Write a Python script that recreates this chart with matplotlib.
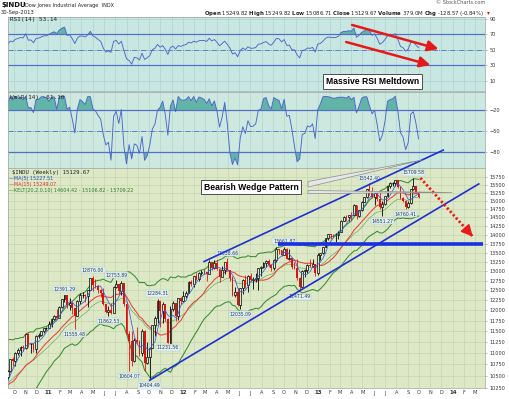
import numpy as np
import pandas as pd
import matplotlib
matplotlib.use("Agg")
import matplotlib.pyplot as plt
import matplotlib.dates as mdates
from matplotlib.patches import Polygon
from matplotlib.ticker import NullLocator

# weekly $INDU bars, weeks of 2010-05-03 ... 2013-09-30
closes = [
    10380, 10620, 10193, 10137, 9931, 10211, 10450, 10143, 9686, 10198, 10097, 10424, 10466, 10653,
    10303, 10213, 10150, 10447, 10462, 10607, 10860, 10829, 11006, 11062, 11133, 11118, 11444, 11192,
    11204, 11092, 11382, 11410, 11491, 11573, 11578,
    11674, 11787, 11871, 11823, 12092, 12273, 12391, 12130, 12170, 12044, 11858, 12221, 12376, 12380,
    12342, 12506, 12811, 12639, 12596, 12512, 12441, 12151, 11952, 12004, 11934, 12582, 12657, 12479,
    12681, 12143, 11444, 11269, 10818, 11284, 11240, 10992, 11510, 10771, 10913, 11103, 11644, 11809,
    12231, 11983, 12153, 11796, 11231.78, 12019, 12184, 11867, 12294, 12218,
    12360, 12422, 12720, 12660, 12862, 12801, 12950, 12983, 12978, 12922, 13233, 13081, 13212, 13060,
    12850, 13029, 13228, 13038, 12821, 12369, 12454, 12119, 12554, 12767, 12640, 12880, 12772, 12777,
    12822, 13075, 13096, 13207, 13275, 13157, 13090, 13306, 13593, 13579, 13437, 13610, 13328, 13343,
    13107, 13093, 12815, 12588, 13010, 13026, 13155, 13135, 13190, 12938,
    13435, 13488, 13650, 13896, 14009, 13993, 13982, 14001, 14090, 14397, 14514, 14512, 14579, 14565,
    14865, 14547, 14712, 14974, 15118, 15354, 15303, 15116, 15248, 15070, 14799, 14910, 15136, 15464,
    15544, 15559, 15659, 15426, 15082, 15010, 14810, 14922, 15376, 15452, 15258, 15129.67,
]
highs = [
    11151, 10879, 10710, 10400, 10360, 10240, 10470, 10594, 10150, 10210, 10411, 10450, 10540, 10700,
    10720, 10450, 10240, 10460, 10480, 10620, 10870, 10900, 11010, 11100, 11160, 11180, 11450, 11450,
    11220, 11210, 11400, 11460, 11500, 11580, 11600,
    11750, 11800, 11880, 12020, 12100, 12280, 12391.29, 12391, 12300, 12200, 12050, 12250, 12420, 12450,
    12400, 12510, 12820, 12876.00, 12780, 12640, 12520, 12570, 12160, 12100, 12190, 12600, 12753.89, 12660,
    12750, 12690, 12200, 11500, 11500, 11330, 11600, 11300, 11550, 11520, 11250, 11130, 11650, 11850,
    12284.31, 12240, 12200, 12160, 11800, 12100, 12240, 12190, 12300, 12320,
    12480, 12490, 12730, 12760, 12870, 12950, 12970, 13030, 13060, 12980, 13290, 13240, 13290, 13290,
    13060, 13130, 13240, 13338.66, 13040, 12870, 12580, 12560, 12560, 12780, 12900, 12900, 12950, 12830,
    12960, 13090, 13140, 13250, 13300, 13330, 13170, 13320, 13650, 13600, 13580, 13661.87, 13620, 13590,
    13350, 13240, 13320, 12830, 13020, 13050, 13180, 13330, 13320, 13190,
    13480, 13500, 13660, 13900, 14020, 14020, 14030, 14040, 14110, 14420, 14540, 14560, 14580, 14660,
    14890, 14880, 14720, 15010, 15130, 15370, 15542.40, 15420, 15260, 15250, 15340, 15000, 15160, 15470,
    15600, 15600, 15660, 15660, 15430, 15130, 15020, 15010, 15380, 15709.58, 15470, 15249.82,
]
lows = [
    9870, 10380, 9920, 9775, 9920, 9757, 10130, 10080, 9614, 9680, 10080, 10000, 10350, 10460,
    10290, 10150, 9936, 9990, 10300, 10440, 10590, 10700, 10710, 10950, 10930, 11050, 11090, 11140,
    10990, 11010, 10990, 11330, 11380, 11460, 11520,
    11570, 11600, 11770, 11800, 11800, 12050, 12200, 12050, 12000, 11900, 11555.48, 11850, 12150, 12300,
    12200, 12090, 12500, 12490, 12570, 12420, 12330, 12130, 11940, 11862.53, 11900, 11930, 12550, 12400,
    12380, 12100, 11400, 10604.07, 10700, 10800, 11200, 10930, 10930, 10600, 10750, 10404.49, 11100, 11380,
    11700, 11600, 11700, 11740, 11231.56, 11230, 11990, 11730, 11770, 12150,
    12210, 12300, 12420, 12600, 12580, 12760, 12740, 12900, 12920, 12740, 12920, 13040, 13050, 13040,
    12700, 12850, 12920, 13020, 12750, 12350, 12340, 12100, 12035.09, 12400, 12550, 12450, 12750, 12520,
    12700, 12500, 12870, 13080, 13100, 13100, 13000, 13020, 13250, 13450, 13400, 13420, 13320, 13300,
    13050, 13060, 12760, 12471.49, 12550, 12850, 12950, 13100, 13100, 12880,
    12900, 13300, 13460, 13640, 13850, 13880, 13920, 13780, 13870, 14090, 14390, 14390, 14410, 14430,
    14560, 14450, 14500, 14700, 14960, 15080, 15180, 15100, 14880, 15000, 14760, 14551.27, 14870, 15130,
    15400, 15450, 15450, 15400, 15060, 14960, 14760.41, 14780, 14900, 15340, 15250, 15086.71,
]

# swing highs / lows labelled on the chart
swing_dates = ["2011-02-14", "2011-03-14", "2011-05-02", "2011-06-13", "2011-07-04", "2011-08-08",
               "2011-10-03", "2011-10-24", "2011-11-21", "2012-04-30", "2012-06-04", "2012-10-01",
               "2012-11-12", "2013-05-20", "2013-06-24", "2013-09-16", "2013-08-26"]
swing_values = [12391.29, 11555.48, 12876.00, 11862.53, 12753.89, 10604.07, 10404.49, 12284.31,
                11231.56, 13338.66, 12035.09, 13661.87, 12471.49, 15542.40, 14551.27, 15709.58, 14760.41]
swing_is_high = [1, 0, 1, 0, 1, 0, 0, 1, 0, 1, 0, 1, 0, 1, 0, 1, 0]

# hand drawn annotation lines (date, value)
upper_line = (["2012-02-27", "2013-12-06"], [13255, 16637])
lower_line = (["2011-10-03", "2014-03-12"], [10404.49, 15527])
resist_line = (["2012-09-15", "2014-03-23"], [13730, 13730])
drop_arrow = (["2013-10-05", "2014-02-24"], [15718, 13945])
rsi_arrow_top = (["2013-04-03", "2013-11-23"], [82.3, 51.3])
rsi_arrow_low = (["2013-03-18", "2013-11-01"], [60.3, 30.6])

W, H = 510, 399
L, R = 8, 485

c = np.array(closes, float)
hi = np.array(highs, float)
lo = np.array(lows, float)
o = np.r_[c[0], c[:-1]]
hi = np.maximum(hi, np.maximum(o, c))
lo = np.minimum(lo, np.minimum(o, c))
dates = pd.date_range(end="2013-09-30", periods=len(c), freq="7D")
xd = mdates.date2num(dates)

# indicators
cs = pd.Series(c)
ma5 = cs.rolling(5).mean()
ma15 = cs.rolling(15).mean()
ema20 = cs.ewm(span=20, adjust=False).mean()
prev = cs.shift(1).fillna(cs.iloc[0])
tr = np.maximum(hi - lo, np.maximum(abs(hi - prev), abs(lo - prev)))
atr = pd.Series(tr).ewm(alpha=1 / 10, adjust=False).mean()
kelt_up = ema20 + 2 * atr
kelt_dn = ema20 - 2 * atr

d = cs.diff().fillna(0)
au = d.clip(lower=0).ewm(alpha=1 / 14, adjust=False).mean()
ad = (-d).clip(lower=0).ewm(alpha=1 / 14, adjust=False).mean()
rsi = (100 - 100 / (1 + au / ad)).to_numpy()

hh = pd.Series(hi).rolling(14, min_periods=1).max()
ll = pd.Series(lo).rolling(14, min_periods=1).min()
wr = ((hh - cs) / (hh - ll) * -100).to_numpy()

fig = plt.figure(figsize=(W / 100, H / 100), dpi=100)


def panel(top, bottom):
    return fig.add_axes([L / W, 1 - bottom / H, (R - L) / W, (bottom - top) / H])


def fxy(px, py):
    return px / W, 1 - py / H


ax_rsi = panel(17, 91)
ax_wr = panel(92, 168)
ax_p = panel(168, 388)
ax_p.set_zorder(3)

x0 = mdates.date2num(pd.Timestamp("2010-09-14"))
x1 = mdates.date2num(pd.Timestamp("2014-03-29"))
months = pd.date_range("2010-10-01", "2014-03-01", freq="MS")
month_labels = [m.strftime("%y") if m.month == 1 else m.strftime("%b")[0] for m in months]

line_blue = "#4c66c8"
fill_teal = "#62b4a8"
thr_blue = "#5470c4"


def style(ax, bg, grid):
    ax.set_facecolor(bg)
    ax.set_xlim(x0, x1)
    ax.set_xticks(mdates.date2num(months))
    ax.tick_params(axis="x", length=0, labelbottom=False)
    ax.yaxis.tick_right()
    ax.tick_params(axis="y", length=1.5, width=0.4, color="#888888", labelsize=3.6, pad=1.5,
                   labelcolor="#333333")
    ax.grid(True, color=grid, lw=0.5)
    ax.set_axisbelow(True)
    for s in ax.spines.values():
        s.set_color("#9aa3a0")
        s.set_linewidth(0.5)


# ---- RSI panel
style(ax_rsi, "#c9e7e2", "#b0d4ce")
ax_rsi.set_ylim(-3, 92.6)
ax_rsi.set_yticks([10, 30, 50, 70, 90])
ax_rsi.fill_between(xd, 70, rsi, where=rsi > 70, interpolate=True, color=fill_teal, lw=0)
ax_rsi.fill_between(xd, 30, rsi, where=rsi < 30, interpolate=True, color=fill_teal, lw=0)
ax_rsi.axhline(70, color=thr_blue, lw=0.9)
ax_rsi.axhline(30, color=thr_blue, lw=0.9)
ax_rsi.axhline(50, color=thr_blue, lw=0.6, ls="-.")
ax_rsi.plot(xd, rsi, color=line_blue, lw=0.65)
for arr in (rsi_arrow_top, rsi_arrow_low):
    xs = mdates.date2num(pd.to_datetime(arr[0]))
    ax_rsi.annotate("", xy=(xs[1], arr[1][1]), xytext=(xs[0], arr[1][0]),
                    arrowprops=dict(arrowstyle="-|>,head_length=0.7,head_width=0.35",
                                    color="#e41a1a", lw=1.8, mutation_scale=9,
                                    shrinkA=0, shrinkB=0))
fig.text(*fxy(10, 19.5), "RSI(14) 53.14", family="DejaVu Sans Mono", fontsize=4.3,
         va="center", color="#222222")

# ---- Williams %R panel
style(ax_wr, "#cde8df", "#b3d6ca")
ax_wr.set_ylim(-103, 6)
ax_wr.set_yticks([-20, -50, -80])
ax_wr.fill_between(xd, -20, wr, where=wr > -20, interpolate=True, color=fill_teal, lw=0)
ax_wr.fill_between(xd, -80, wr, where=wr < -80, interpolate=True, color=fill_teal, lw=0)
ax_wr.axhline(-20, color=thr_blue, lw=0.9)
ax_wr.axhline(-80, color=thr_blue, lw=0.9)
ax_wr.axhline(-50, color=thr_blue, lw=0.6, ls="-.")
ax_wr.plot(xd, wr, color=line_blue, lw=0.65)
fig.text(*fxy(10, 97), "Wm%R(14) -61.10", family="DejaVu Sans Mono", fontsize=4.3,
         va="center", color="#222222")

# ---- price panel
price_bg = "#dde9c6"
style(ax_p, price_bg, "#c4d6ab")
ax_p.set_yscale("log")
pticks = np.arange(10250, 15751, 250)
ax_p.set_yticks(pticks)
ax_p.set_yticklabels([str(int(t)) for t in pticks])
ax_p.yaxis.set_minor_locator(NullLocator())
ax_p.set_ylim(10240, 16040)
ax_p.set_xticklabels(month_labels)
ax_p.tick_params(axis="x", labelbottom=True, labelsize=3.6, pad=1.8, labelcolor="#333333")
for lbl, m in zip(ax_p.get_xticklabels(), months):
    if m.month == 1:
        lbl.set_fontweight("bold")
        lbl.set_fontsize(4)

ax_p.plot(xd, kelt_up, color="#3a8a36", lw=0.75, zorder=2)
ax_p.plot(xd, kelt_dn, color="#3a8a36", lw=0.75, zorder=2)
ax_p.plot(xd, ema20, color="#5a9a50", lw=0.4, zorder=2)
ax_p.plot(xd, ma15, color="#e8403a", lw=0.75, zorder=2)

up = c >= o
ax_p.vlines(xd[up], lo[up], hi[up], color="black", lw=0.6, zorder=3)
ax_p.vlines(xd[~up], lo[~up], hi[~up], color="#e01010", lw=0.6, zorder=3)
ax_p.bar(xd[up], c[up] - o[up], bottom=o[up], width=5.0, facecolor=price_bg,
         edgecolor="black", lw=0.5, zorder=4)
ax_p.bar(xd[~up], o[~up] - c[~up], bottom=c[~up], width=5.0, color="#e01010",
         lw=0, zorder=4)
ax_p.plot(xd, ma5, color="#3a5ad8", lw=0.55, zorder=5)

for dstr, val, is_hi in zip(swing_dates, swing_values, swing_is_high):
    ax_p.annotate(f"{val:.2f}", xy=(mdates.date2num(pd.Timestamp(dstr)), val),
                  xytext=(0, 3.8 if is_hi else -3.8), textcoords="offset points",
                  ha="center", va="center", fontsize=3.3, color="#24384c", zorder=7,
                  bbox=dict(boxstyle="square,pad=0.12", fc="#e2f1f3", ec="#a9c6cf", lw=0.3))

for ln in (upper_line, lower_line):
    ax_p.plot(mdates.date2num(pd.to_datetime(ln[0])), ln[1], color="#1f2fd0", lw=1.2,
              clip_on=False, zorder=8)
ax_p.plot(mdates.date2num(pd.to_datetime(resist_line[0])), resist_line[1], color="#1a2fe0",
          lw=2.6, zorder=8, solid_capstyle="butt")

ax_dates = mdates.date2num(pd.to_datetime(drop_arrow[0]))
ax_p.plot(ax_dates, drop_arrow[1], color="#e81a1a", lw=2.0, ls=(0, (0.8, 0.8)), zorder=8)
tip_x = ax_dates[0] + 0.92 * (ax_dates[1] - ax_dates[0])
tip_y = drop_arrow[1][0] * (drop_arrow[1][1] / drop_arrow[1][0]) ** 0.92
ax_p.annotate("", xy=(ax_dates[1], drop_arrow[1][1]), xytext=(tip_x, tip_y),
              arrowprops=dict(arrowstyle="-|>,head_length=0.8,head_width=0.4", color="#e81a1a",
                              lw=1, mutation_scale=9, shrinkA=0, shrinkB=0), zorder=9)

# legend of the price panel
fig.text(*fxy(12, 173), "$INDU (Weekly) 15129.67", family="DejaVu Sans Mono", fontsize=4.1,
         va="center", color="#222222", zorder=10)
fig.text(*fxy(9, 178.8), "\u2014MA(5) 15227.51", fontsize=3.5, va="center", color="#2a48c0", zorder=10)
fig.text(*fxy(9, 184.6), "\u2014MA(15) 15249.07", fontsize=3.5, va="center", color="#e03030", zorder=10)
fig.text(*fxy(9, 190.4), "\u2014KELT(20,2.0,10) 14604.42 - 15106.82 - 15709.22", fontsize=3.5,
         va="center", color="#2e7a2a", zorder=10)

# header
fig.text(*fxy(1, 5.5), "$INDU", fontsize=5, fontweight="bold", va="center", color="#111111")
fig.text(*fxy(25, 5.5), "Dow Jones Industrial Average  INDX", fontsize=3.6, va="center",
         color="#222222")
fig.text(*fxy(1, 12.5), "30-Sep-2013", fontsize=3.8, va="center", color="#222222")
fig.text(*fxy(485, 2.5), "\u00a9 StockCharts.com", fontsize=3.6, ha="right", va="center",
         color="#555555")
fig.text(*fxy(484, 13), r"$\bf{Open}$ 15249.82 $\bf{High}$ 15249.82 $\bf{Low}$ 15086.71 "
         r"$\bf{Close}$ 15129.67 $\bf{Volume}$ 379.0M $\bf{Chg}$ -128.57 (-0.84%)",
         fontsize=3.9, ha="right", va="center", color="#222222")
fig.text(*fxy(488, 13), "\u25be", fontsize=4, ha="center", va="center", color="#d01010")

# annotation boxes
box_font = dict(family="Liberation Sans", fontweight="bold", fontsize=6.2, color="black",
                ha="center", va="center", zorder=12)
fig.text(*fxy(372.5, 81.5), "Massive RSI Meltdown",
         bbox=dict(boxstyle="square,pad=0.3", fc="white", ec="#333333", lw=0.6), **box_font)
fig.patches.append(Polygon([fxy(308, 181.5), fxy(308, 187), fxy(422, 160)], closed=True,
                           fc="#e6e6e6", ec="#8c8c8c", lw=0.5, transform=fig.transFigure,
                           zorder=11))
fig.patches.append(Polygon([fxy(308, 190.5), fxy(308, 193.5), fxy(452, 192.5)], closed=True,
                           fc="#e6e6e6", ec="#8c8c8c", lw=0.5, transform=fig.transFigure,
                           zorder=11))
fig.text(*fxy(251, 187), "Bearish Wedge Pattern",
         bbox=dict(boxstyle="square,pad=0.3", fc="white", ec="#333333", lw=0.6), **box_font)

fig.savefig("out.png", dpi=100)
